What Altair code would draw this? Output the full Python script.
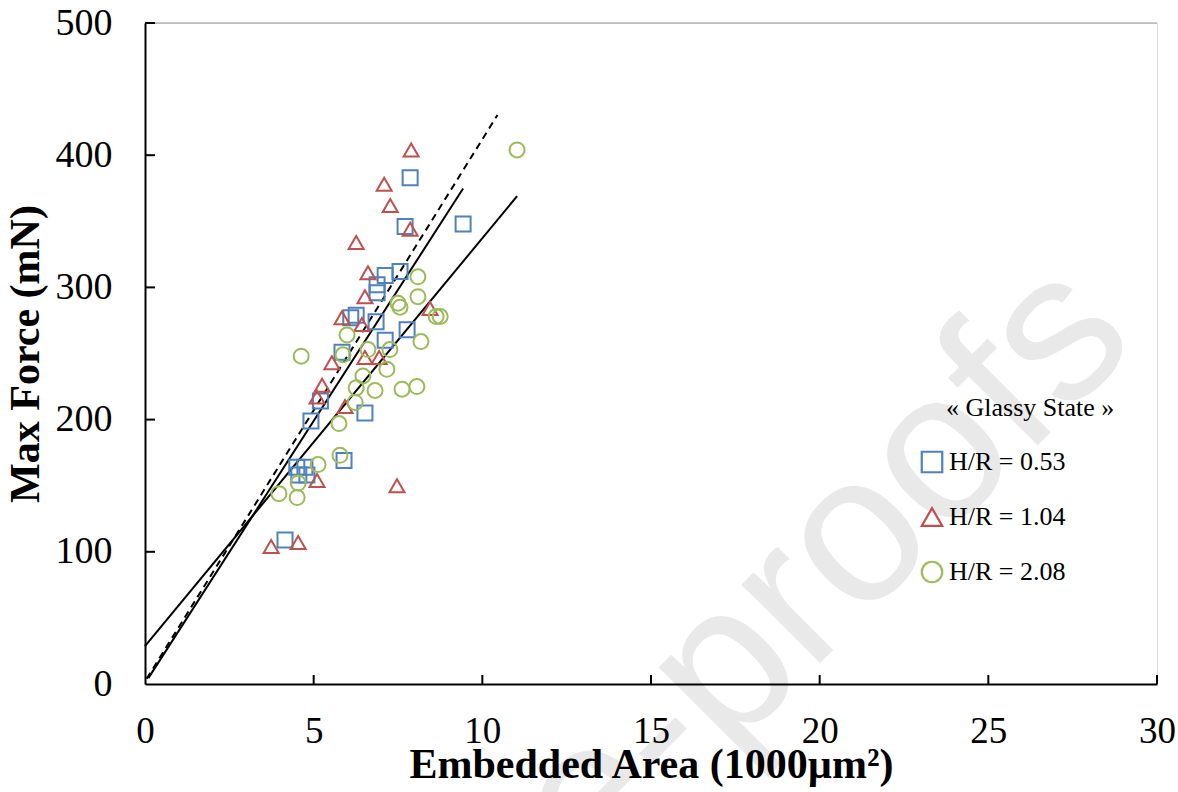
import altair as alt
import pandas as pd

# ---- data ----
series_names = ["H/R = 0.53", "H/R = 1.04", "H/R = 2.08"]
series_colors = ["#4F81BD", "#C0504D", "#9BBB59"]
series_shapes = ["square", "triangle-up", "circle"]

blue_x = [7.86, 9.43, 7.71, 7.56, 7.12, 6.88, 6.88, 6.26, 6.10, 6.85, 7.77, 7.12,
          5.84, 5.20, 4.92, 6.52, 5.90, 4.50, 4.74, 4.56, 4.80, 4.15]
blue_y = [383, 348, 346, 312, 309, 302, 296, 279, 277, 274, 268, 260,
          251, 214, 199, 205, 169, 164, 164, 158, 158, 109]

red_x = [7.89, 7.09, 7.27, 6.26, 7.86, 6.61, 6.52, 5.84, 6.43, 6.94, 6.52, 5.54,
         5.25, 5.10, 8.45, 5.93, 5.10, 7.47, 3.74, 4.54]
red_y = [404, 378, 362, 334, 344, 311, 293, 277, 272, 247, 247, 243,
         226, 217, 284, 210, 154, 150, 104, 107]

green_x = [11.03, 8.09, 8.09, 7.50, 7.56, 8.63, 8.75, 8.18, 7.26, 6.61, 5.99, 4.63,
           5.87, 7.17, 6.46, 6.26, 6.82, 7.62, 8.06, 6.23, 5.75, 5.78, 5.13, 4.54,
           3.97, 4.51]
green_y = [404, 308, 293, 288, 285, 278, 278, 259, 253, 253, 264, 248,
           249, 238, 233, 224, 222, 223, 225, 213, 197, 173, 166, 152,
           144, 141]

# linear fits: y = slope * x + intercept, drawn between x_start and x_end
fit_slopes = [41.0, 39.7, 30.85]
fit_intercepts = [2.0, 0.5, 28.7]
fit_x_start = [0.05, 0.10, 0.0]
fit_x_end = [10.45, 9.43, 11.03]
fit_dashed = [True, False, False]

x_ticks = [0, 5, 10, 15, 20, 25, 30]
y_ticks = [0, 100, 200, 300, 400, 500]

legend_title = "« Glassy State »"
x_title = "Embedded Area (1000µm²)"
y_title = "Max Force (mN)"
watermark = "Journal Pre-proofs"

# ---- tables ----
rows = []
for name, xs, ys in zip(series_names, [blue_x, red_x, green_x], [blue_y, red_y, green_y]):
    for a, b in zip(xs, ys):
        rows.append({"x": a, "y": b, "series": name})
pts = pd.DataFrame(rows)

line_rows = []
for i, (m, c, x0, x1, d) in enumerate(zip(fit_slopes, fit_intercepts, fit_x_start, fit_x_end, fit_dashed)):
    for xv in (x0, x1):
        line_rows.append({"x": xv, "y": m * xv + c, "fit": i, "dashed": d})
lines = pd.DataFrame(line_rows)

SERIF = "Liberation Serif"
xscale = alt.Scale(domain=[0, 30], nice=False, zero=False)
yscale = alt.Scale(domain=[0, 500], nice=False, zero=False)

x_axis = alt.Axis(values=x_ticks, ticks=False, tickSize=0, grid=False, labelFontSize=37,
                  labelFont=SERIF, labelColor="black", labelPadding=29, labelFlush=False,
                  labelOverlap=False, domainColor="black", domainWidth=2, title=x_title,
                  titleFont=SERIF, titleFontSize=42, titleFontWeight="bold",
                  titleColor="black", titlePadding=-5, zindex=2)
y_axis = alt.Axis(values=y_ticks, ticks=False, tickSize=0, grid=False, labelFontSize=38,
                  labelFont=SERIF, labelColor="black", labelPadding=33, labelFlush=False,
                  labelOverlap=False, domainColor="black", domainWidth=2, title=y_title,
                  titleFont=SERIF, titleFontSize=42, titleFontWeight="bold",
                  titleColor="black", titlePadding=8, zindex=2)

X = alt.X("x:Q", scale=xscale, axis=x_axis, title=x_title)
Y = alt.Y("y:Q", scale=yscale, axis=y_axis, title=y_title)

wm = alt.Chart(pd.DataFrame({"t": [watermark]})).mark_text(
    font="Liberation Sans", fontSize=210, color="#e9e9e9", angle=315,
    align="right", baseline="alphabetic"
).encode(text="t:N", x=alt.value(995), y=alt.value(320))

top_border = alt.Chart(pd.DataFrame({"a": [0]})).mark_rule(color="#9a9a9a", strokeWidth=1).encode(
    x=alt.value(0), x2=alt.value(1012), y=alt.value(0))

dashed_line = alt.Chart(lines[lines["dashed"]]).mark_line(
    color="black", strokeWidth=2, strokeDash=[7, 5]
).encode(x=X, y=Y, detail="fit:N")
solid_lines = alt.Chart(lines[~lines["dashed"]]).mark_line(
    color="black", strokeWidth=2
).encode(x=X, y=Y, detail="fit:N")

points = alt.Chart(pts).mark_point(filled=False, size=225, strokeWidth=2, opacity=1).encode(
    x=X, y=Y,
    color=alt.Color("series:N", scale=alt.Scale(domain=series_names, range=series_colors),
                    legend=alt.Legend(title=None, orient="none", legendX=774, legendY=426,
                                      labelFont=SERIF, labelFontSize=26, labelColor="black",
                                      symbolSize=420, symbolStrokeWidth=2.2, rowPadding=26,
                                      labelOffset=4, padding=0, symbolOffset=0)),
    shape=alt.Shape("series:N", scale=alt.Scale(domain=series_names, range=series_shapes)),
)

xt = alt.Chart(pd.DataFrame({"x": x_ticks[1:]})).mark_rule(color="black", strokeWidth=2).encode(
    x=X, y=alt.value(661), y2=alt.value(652))
yt = alt.Chart(pd.DataFrame({"y": y_ticks[1:]})).mark_rule(color="black", strokeWidth=2).encode(
    y=Y, x=alt.value(0), x2=alt.value(10))

ltitle = alt.Chart(pd.DataFrame({"t": [legend_title]})).mark_text(
    font=SERIF, fontSize=26, color="black", align="left", baseline="middle"
).encode(text="t:N", x=alt.value(801), y=alt.value(385))

chart = alt.layer(wm, top_border, dashed_line, solid_lines, points, xt, yt, ltitle).properties(
    width=1012, height=661,
    autosize=alt.AutoSizeParams(type="none"),
    padding={"left": 145, "top": 23, "right": 21, "bottom": 108},
).configure_view(strokeWidth=0).configure(background="white")

chart.save("out.html", embed_options={"renderer": "svg", "actions": False})
